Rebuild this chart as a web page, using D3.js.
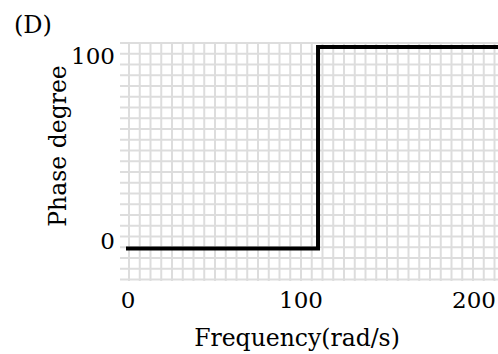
<!DOCTYPE html>
<html>
<head>
<meta charset="utf-8">
<script src="https://cdn.jsdelivr.net/npm/d3@7"></script>
<style>
  body { margin: 0; background: #fff; }
  svg text { font-family: "DejaVu Serif", serif; fill: #000; }
</style>
</head>
<body>
<div class="chart"></div>
<script>
// step response data: frequency (rad/s) and phase (degree)
const freq = [0, 111, 111, 216];
const phase = [0, 0, 100, 100];
const xTicks = [0, 100, 200];
const yTicks = [0, 100];

const W = 498, H = 354;
const svg = d3.select('.chart').append('svg')
  .attr('width', W).attr('height', H);

// scales
const x = d3.scaleLinear().domain([0, 100]).range([126, 299]);
const y = d3.scaleLinear().domain([0, 100]).range([248.5, 47]);

// background grid (graph paper)
const gx0 = 120, gx1 = W, gy0 = 42, gy1 = 281, cell = 10.75;
const grid = svg.append('g');
grid.selectAll('line.v')
  .data(d3.range(129, gx1 + 1, cell))
  .enter().append('line')
  .attr('x1', d => d).attr('x2', d => d)
  .attr('y1', gy0).attr('y2', gy1)
  .attr('stroke', '#dddddd').attr('stroke-width', 2);
grid.selectAll('line.h')
  .data(d3.range(gy0 + 1, gy1, cell))
  .enter().append('line')
  .attr('x1', gx0).attr('x2', gx1)
  .attr('y1', d => d).attr('y2', d => d)
  .attr('stroke', '#dddddd').attr('stroke-width', 2);

// step line
const pts = freq.map((f, i) => [f, phase[i]]);
svg.append('path')
  .datum(pts)
  .attr('d', d3.line().x(d => x(d[0])).y(d => y(d[1])))
  .attr('fill', 'none')
  .attr('stroke', '#000')
  .attr('stroke-width', 4)
  .attr('stroke-linejoin', 'miter');

// x tick labels
svg.selectAll('text.xt')
  .data(xTicks)
  .enter().append('text')
  .attr('x', d => x(d) + 2)
  .attr('y', 308)
  .attr('text-anchor', 'middle')
  .attr('font-size', 23)
  .text(d => d);

// y tick labels: 100 hangs from the top line, 0 sits on the bottom line
svg.selectAll('text.yt')
  .data(yTicks)
  .enter().append('text')
  .attr('x', 115)
  .attr('y', d => d === 100 ? y(d) + 16.5 : y(d))
  .attr('text-anchor', 'end')
  .attr('font-size', 23)
  .text(d => d);

// axis titles
svg.append('text')
  .attr('x', 297).attr('y', 346)
  .attr('text-anchor', 'middle')
  .attr('font-size', 23.5)
  .text('Frequency(rad/s)');

svg.append('text')
  .attr('transform', 'translate(66,146) rotate(-90)')
  .attr('text-anchor', 'middle')
  .attr('font-size', 23.5)
  .text('Phase degree');

svg.append('text')
  .attr('x', 14).attr('y', 33)
  .attr('font-size', 24)
  .text('(D)');
</script>
</body>
</html>
